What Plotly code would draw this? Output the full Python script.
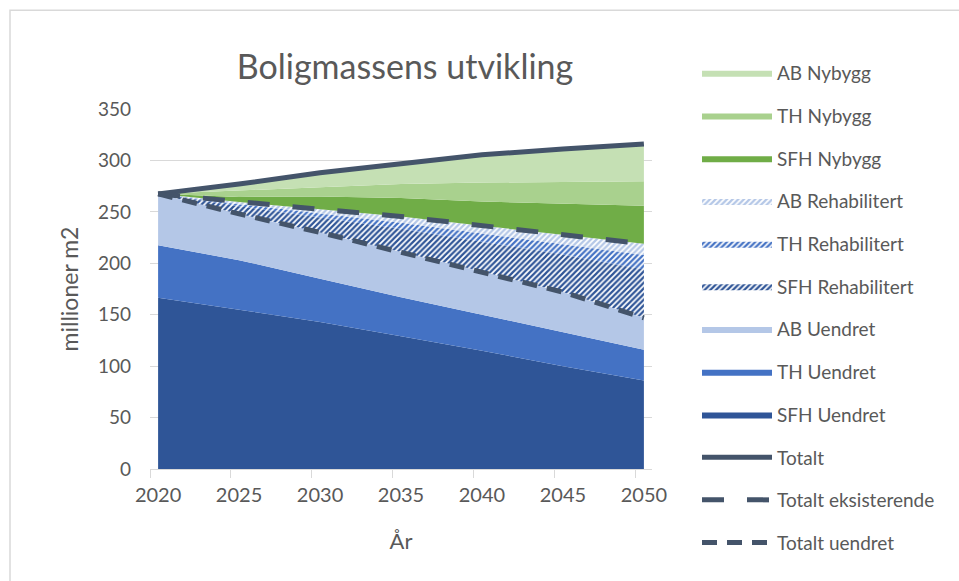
import plotly.graph_objects as go

years = [2020, 2025, 2030, 2035, 2040, 2045, 2050]

sfh_uendret = [166.5, 155, 143, 129, 115, 100, 86]
th_uendret = [51, 48, 42, 38, 35, 33, 30]
ab_uendret = [50, 45, 45, 44, 42, 39, 31]
sfh_rehab = [0, 7.5, 14.5, 22.5, 29, 36.5, 47]
th_rehab = [0, 2, 4, 6, 8, 10, 14]
ab_rehab = [0, 2, 4, 6, 7.5, 9.5, 11]
sfh_nybygg = [0, 5, 12.5, 18, 23.5, 30, 37]
th_nybygg = [0, 6.5, 9, 13.7, 18.5, 21, 23.7]
ab_nybygg = [0, 6, 14, 20, 27, 32, 36.5]

totalt = [267.5, 277, 288, 297, 305.5, 311, 316]
totalt_eksisterende = [267.5, 259.5, 252.5, 245.5, 236.5, 228, 219]
totalt_uendret = [267.5, 248, 230, 211, 192, 172, 147]

tick_years = [2020, 2025, 2030, 2035, 2040, 2045, 2050]
tick_labels = ["2020", "2025", "2030", "2035", "2040", "2045", "2050"]

FONT = "Lato"
GREY = "#595959"
LINE = "#44546a"

areas = [
    ("SFH Uendret", sfh_uendret, "#2f5597", None, 9),
    ("TH Uendret", th_uendret, "#4472c4", None, 8),
    ("AB Uendret", ab_uendret, "#b4c7e7", None, 7),
    ("SFH Rehabilitert", sfh_rehab, "#2f5597", "/", 6),
    ("TH Rehabilitert", th_rehab, "#4472c4", "/", 5),
    ("AB Rehabilitert", ab_rehab, "#b4c7e7", "/", 4),
    ("SFH Nybygg", sfh_nybygg, "#70ad47", None, 3),
    ("TH Nybygg", th_nybygg, "#a9d18e", None, 2),
    ("AB Nybygg", ab_nybygg, "#c5e0b4", None, 1),
]

fig = go.Figure()
for name, vals, color, pat, rank in areas:
    kw = {}
    if pat:
        kw["fillpattern"] = dict(shape=pat, fgcolor=color, bgcolor="white",
                                 size=4, solidity=0.55, fillmode="replace")
        kw["fillcolor"] = "white"
    else:
        kw["fillcolor"] = color
    fig.add_trace(go.Scatter(
        x=years, y=vals, name=name, mode="lines", stackgroup="one",
        line=dict(width=0, color=color), legendrank=rank, legendgroup=name,
        **kw))

lines = [
    ("Totalt", totalt, "solid", 10),
    ("Totalt eksisterende", totalt_eksisterende, "22px,23px", 11),
    ("Totalt uendret", totalt_uendret, "15px,10px", 12),
]
for name, vals, dash, rank in lines:
    fig.add_trace(go.Scatter(
        x=years, y=vals, name=name, mode="lines",
        line=dict(color=LINE, width=5, dash=dash),
        legendrank=rank, legendgroup=name))

fig.update_layout(
    width=959, height=581,
    margin=dict(l=150, r=307, t=109, b=112),
    paper_bgcolor="white", plot_bgcolor="white",
    font=dict(family=FONT, color=GREY, size=18),
    title=dict(text="Boligmassens utvikling", x=405 / 959, xanchor="center",
               y=1 - 67 / 581, yanchor="middle",
               font=dict(family=FONT, size=34, color=GREY)),
    legend=dict(
        x=697 / 959, xref="container", y=1 - 54 / 581, yref="container",
        xanchor="left", yanchor="top",
        traceorder="grouped", tracegroupgap=15, maxheight=560,
        itemwidth=70, font=dict(family=FONT, size=19, color=GREY),
        bgcolor="rgba(0,0,0,0)"),
    showlegend=True,
)

fig.update_xaxes(
    range=[2019.5, 2050.5], tickvals=tick_years, ticktext=tick_labels,
    ticks="", showgrid=False, showline=True, linecolor="#d9d9d9", linewidth=1,
    tickfont=dict(family=FONT, size=20, color=GREY),
    ticklabelstandoff=8,
    minor=dict(tickvals=[2019.5, 2024.5, 2029.5, 2034.5, 2039.5, 2044.5, 2049.5],
               ticks="outside", ticklen=8, tickcolor="#d9d9d9", tickwidth=1,
               showgrid=False),
    title=dict(text="År", font=dict(family=FONT, size=22, color=GREY), standoff=28),
    zeroline=False,
)
fig.update_yaxes(
    range=[0, 350], dtick=50, showgrid=True, gridcolor="#d9d9d9", gridwidth=1,
    showline=False, ticks="", zeroline=False,
    tickfont=dict(family=FONT, size=19, color=GREY),
    ticklabelstandoff=18,
    title=dict(text="millioner m2", font=dict(family=FONT, size=23, color=GREY), standoff=12),
)

fig.add_shape(type="rect", xref="paper", yref="paper",
              x0=(10 - 150) / 502, x1=(970 - 150) / 502,
              y0=(468.5 - 600) / 359.1, y1=(468.5 - 11) / 359.1,
              line=dict(color="#d9d9d9", width=1.5), fillcolor="rgba(0,0,0,0)",
              layer="below")

fig.write_html("out.html")
